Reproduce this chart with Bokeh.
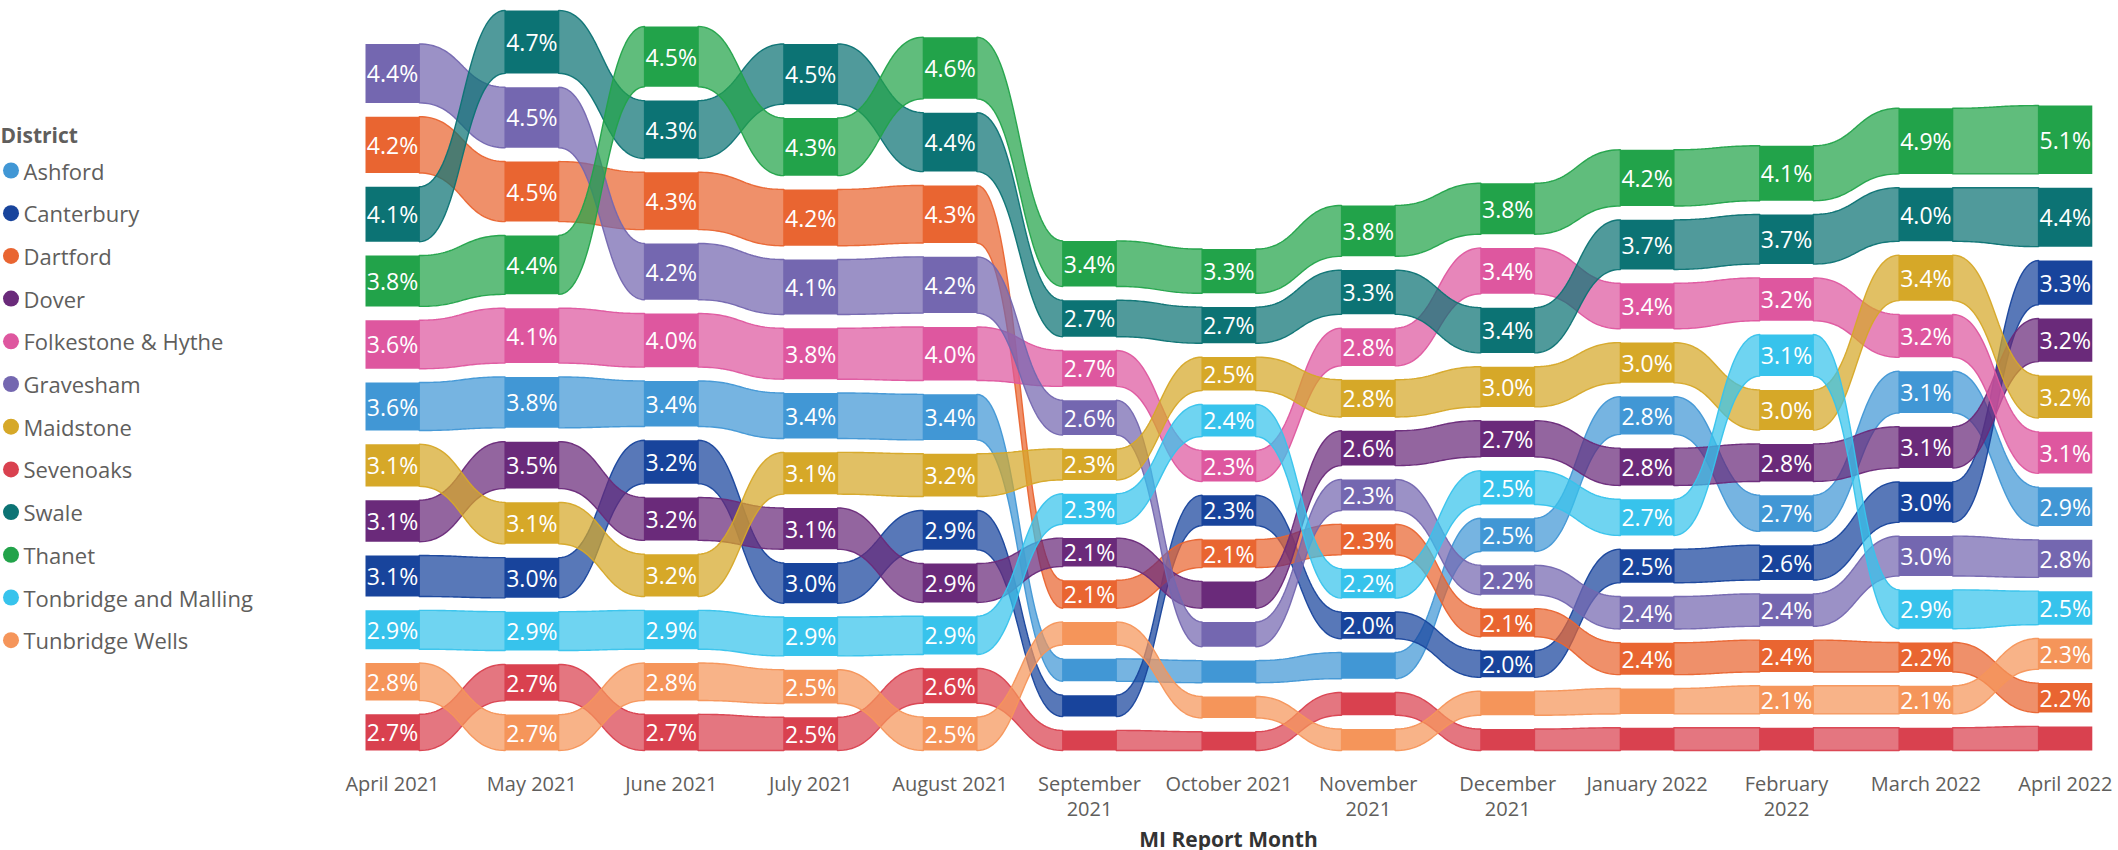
from bokeh.plotting import figure
from bokeh.layouts import row
from bokeh.models import Range1d, FixedTicker, ColumnDataSource
from bokeh.core.properties import value
from bokeh.embed import file_html
from bokeh.resources import INLINE

# ---------------- data ----------------
months = ["April 2021", "May 2021", "June 2021", "July 2021", "August 2021",
          "September\n2021", "October 2021", "November\n2021", "December\n2021",
          "January 2022", "February\n2022", "March 2022", "April 2022"]

districts = ["Ashford", "Canterbury", "Dartford", "Dover", "Folkestone & Hythe",
             "Gravesham", "Maidstone", "Sevenoaks", "Swale", "Thanet",
             "Tonbridge and Malling", "Tunbridge Wells"]

ashford     = [3.58, 3.8, 3.4, 3.4, 3.4, 1.68, 1.65, 1.95, 2.48, 2.82, 2.7, 3.12, 2.9]
canterbury  = [3.06, 3.0, 3.24, 3.0, 2.94, 1.6, 2.27, 2.0, 2.0, 2.5, 2.6, 3.02, 3.3]
dartford    = [4.2, 4.48, 4.28, 4.2, 4.3, 2.08, 2.1, 2.28, 2.1, 2.38, 2.38, 2.2, 2.2]
dover       = [3.10, 3.5, 3.20, 3.08, 2.90, 2.12, 2.0, 2.6, 2.7, 2.78, 2.8, 3.08, 3.22]
folkestone  = [3.62, 4.1, 4.0, 3.8, 4.0, 2.68, 2.32, 2.82, 3.42, 3.4, 3.2, 3.2, 3.1]
gravesham   = [4.4, 4.52, 4.2, 4.1, 4.2, 2.6, 1.85, 2.32, 2.2, 2.42, 2.42, 2.98, 2.8]
maidstone   = [3.14, 3.1, 3.16, 3.12, 3.2, 2.32, 2.5, 2.78, 3.0, 3.0, 3.0, 3.4, 3.18]
sevenoaks   = [2.7, 2.72, 2.7, 2.48, 2.6, 1.5, 1.4, 1.7, 1.6, 1.7, 1.7, 1.7, 1.8]
swale       = [4.1, 4.7, 4.32, 4.5, 4.4, 2.72, 2.7, 3.3, 3.38, 3.7, 3.7, 4.0, 4.4]
thanet      = [3.8, 4.4, 4.5, 4.3, 4.6, 3.4, 3.3, 3.8, 3.8, 4.2, 4.1, 4.9, 5.1]
tonbridge   = [2.9, 2.9, 2.9, 2.9, 2.86, 2.28, 2.4, 2.2, 2.52, 2.7, 3.1, 2.9, 2.5]
tunbridge_w = [2.8, 2.68, 2.8, 2.52, 2.5, 1.72, 1.6, 1.6, 1.8, 1.9, 2.1, 2.1, 2.3]

colors = ["#4197D5", "#18449C", "#E96531", "#6A2A7A", "#DE579F", "#7467B0",
          "#D6A828", "#D9414F", "#0C7374", "#22A34A", "#37C3EC", "#F5955A"]

# month indexes whose data label is not shown in the reference
hidden_labels = {
    "Ashford": [5, 6, 7],
    "Canterbury": [5],
    "Dover": [6],
    "Gravesham": [6],
    "Tunbridge Wells": [5, 6, 7, 8, 9],
    "Sevenoaks": [5, 6, 7, 8, 9, 10, 11, 12],
}

series = dict(zip(districts, [ashford, canterbury, dartford, dover, folkestone,
                              gravesham, maidstone, sevenoaks, swale, thanet,
                              tonbridge, tunbridge_w]))
color_of = dict(zip(districts, colors))

# ---------------- layout constants ----------------
LEG_W = 338
FRAME_W, FRAME_H = 2118 - LEG_W, 752
PX_PER_UNIT = 13.4        # vertical pixels per percentage point
STEP = 139.4              # horizontal pixels between months
X0_PX = 392 - LEG_W       # frame x of first month
BASE_PX = 750             # frame y (from top) of the stack baseline
GAP = 1.03                # gap between stacked segments (in % units)
HW = 27 / STEP            # half bar width in x units

def px2x(px):
    return (px - X0_PX) / STEP

def py2y(py):
    return (BASE_PX - py) / PX_PER_UNIT

n = len(months)

# stacking: largest on top
bottoms = {d: [0.0] * n for d in districts}
for j in range(n):
    order = sorted(districts, key=lambda d: series[d][j])
    y = 0.0
    for d in order:
        bottoms[d][j] = y
        y += series[d][j] + GAP


def bez(x0, y0, x1, y1, m=40):
    xm = (x0 + x1) / 2
    xs, ys = [], []
    for k in range(m + 1):
        t = k / m
        a = (1 - t) ** 3
        b = 3 * (1 - t) ** 2 * t
        c = 3 * (1 - t) * t ** 2
        e = t ** 3
        xs.append(a * x0 + (b + c) * xm + e * x1)
        ys.append((a + b) * y0 + (c + e) * y1)
    return xs, ys


p = figure(frame_width=FRAME_W, frame_height=FRAME_H,
           x_range=Range1d(px2x(0), px2x(FRAME_W)),
           y_range=Range1d(py2y(FRAME_H), py2y(0)),
           output_backend="svg", toolbar_location=None,
           y_axis_location=None,
           min_border_left=0, min_border_right=0, min_border_top=0,
           min_border_bottom=98, outline_line_color=None)
p.grid.visible = False

# ribbons
r_xs, r_ys, r_col = [], [], []
for d in districts:
    v = series[d]
    b = bottoms[d]
    for j in range(n - 1):
        xa = j + HW - 0.002
        xb = j + 1 - HW + 0.002
        tx, ty = bez(xa, b[j] + v[j], xb, b[j + 1] + v[j + 1])
        bx, by = bez(xa, b[j], xb, b[j + 1])
        r_xs.append(tx + bx[::-1])
        r_ys.append(ty + by[::-1])
        r_col.append(color_of[d])
p.patches(xs="xs", ys="ys", source=ColumnDataSource(dict(xs=r_xs, ys=r_ys, c=r_col)),
          fill_color="c", fill_alpha=0.72, line_color="c", line_width=1.4, line_alpha=0.95)

# bars
bl, br, bb, bt, bc = [], [], [], [], []
lx, ly, lt = [], [], []
for d in districts:
    v = series[d]
    b = bottoms[d]
    for j in range(n):
        bl.append(j - HW)
        br.append(j + HW)
        bb.append(b[j])
        bt.append(b[j] + v[j])
        bc.append(color_of[d])
        if j not in hidden_labels.get(d, []):
            lx.append(j)
            ly.append(b[j] + v[j] / 2)
            lt.append(f"{v[j]:.1f}%")
p.quad(left="l", right="r", bottom="b", top="t",
       source=ColumnDataSource(dict(l=bl, r=br, b=bb, t=bt, c=bc)),
       fill_color="c", line_color=None)

p.text(x="x", y="y", text="t", source=ColumnDataSource(dict(x=lx, y=ly, t=lt)),
       text_color="white", text_font=value("Open Sans"), text_font_size="23px",
       text_align="center", text_baseline="middle")

# x axis
ax = p.xaxis[0]
ax.ticker = FixedTicker(ticks=list(range(n)))
ax.major_label_overrides = {i: m for i, m in enumerate(months)}
ax.axis_line_color = None
ax.major_tick_line_color = None
ax.minor_tick_line_color = None
ax.major_tick_out = 0
ax.major_tick_in = 0
ax.major_label_standoff = 17
ax.major_label_text_font = "Open Sans"
ax.major_label_text_font_size = "20px"
ax.major_label_text_color = "#605E5C"
ax.major_label_text_line_height = 0.95
ax.axis_label = "MI Report Month"
ax.axis_label_text_font = "Open Sans"
ax.axis_label_text_font_size = "21px"
ax.axis_label_text_font_style = "bold"
ax.axis_label_text_color = "#333333"
ax.axis_label_standoff = 0

# legend panel (separate figure at the left, pixel coordinates)
leg = figure(frame_width=LEG_W, frame_height=FRAME_H + 98,
             x_range=Range1d(0, LEG_W), y_range=Range1d(FRAME_H + 98, 0),
             output_backend="svg", toolbar_location=None,
             x_axis_location=None, y_axis_location=None,
             min_border_left=0, min_border_right=0, min_border_top=0,
             min_border_bottom=0, outline_line_color=None)
leg.grid.visible = False
leg_y = [170 + 42.7 * k for k in range(len(districts))]
leg.scatter(x=[10.5] * len(districts), y=leg_y, size=16, color=colors, line_color=None)
leg.text(x=[23] * len(districts), y=leg_y, text=districts,
         text_color="#605E5C", text_font=value("Open Sans"), text_font_size="22px",
         text_align="left", text_baseline="middle")
leg.text(x=[0], y=[134], text=["District"],
         text_color="#605E5C", text_font=value("Open Sans"), text_font_size="21px",
         text_font_style="bold", text_align="left", text_baseline="middle")

layout = row(leg, p, spacing=0)
open("out.html", "w").write(file_html(layout, INLINE))
